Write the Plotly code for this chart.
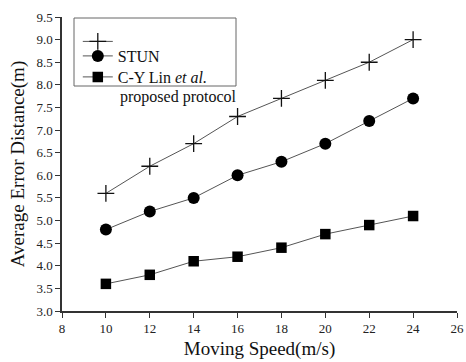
import plotly.graph_objects as go

speed = [10, 12, 14, 16, 18, 20, 22, 24]
proposed = [5.6, 6.2, 6.7, 7.3, 7.7, 8.1, 8.5, 9.0]
stun = [4.8, 5.2, 5.5, 6.0, 6.3, 6.7, 7.2, 7.7]
cylin = [3.6, 3.8, 4.1, 4.2, 4.4, 4.7, 4.9, 5.1]

names = ["\u00a0", "STUN", "C-Y Lin <i>et al.</i>"]
name_extra = "proposed protocol"

FONT = "Liberation Serif, Times New Roman, serif"
line_color = "#555555"

fig = go.Figure()
fig.add_trace(go.Scatter(x=speed, y=proposed, mode="lines+markers", name=names[0], legend="legend4",
                         line=dict(color=line_color, width=1),
                         marker=dict(symbol="cross-thin", size=12, line=dict(color="#111111", width=1.3))))
fig.add_trace(go.Scatter(x=speed, y=stun, mode="lines+markers", name=names[1], legend="legend2",
                         line=dict(color=line_color, width=1),
                         marker=dict(symbol="circle", size=12, color="black")))
fig.add_trace(go.Scatter(x=speed, y=cylin, mode="lines+markers", name=names[2], legend="legend3",
                         line=dict(color=line_color, width=1),
                         marker=dict(symbol="square", size=10.5, color="black")))


def leg(yc):
    return dict(x=0.04, y=yc, xanchor="left", yanchor="middle",
                bgcolor="rgba(0,0,0,0)", borderwidth=0,
                font=dict(family=FONT, size=16, color="#111111"),
                tracegroupgap=0, itemwidth=30)


fig.update_layout(
    width=466, height=362,
    margin=dict(l=62, r=9, t=17, b=51, autoexpand=False),
    paper_bgcolor="white", plot_bgcolor="white",
    font=dict(family=FONT, color="#222222", size=13),
    showlegend=True,
    legend4=leg((311 - 41.5) / 294),
    legend2=leg((311 - 56) / 294),
    legend3=leg((311 - 77) / 294),
    xaxis=dict(range=[8, 26], tickmode="array", tickvals=list(range(8, 27, 2)), automargin=True,
               ticklabeloverflow="allow",
               showgrid=False, zeroline=False, showline=True, linecolor="#333333", linewidth=1.5,
               ticks="outside", ticklen=5, tickcolor="#333333", tickwidth=1.2,
               title=dict(text="Moving Speed(m/s)", font=dict(family=FONT, size=19, color="#111111"),
                          standoff=6)),
    yaxis=dict(range=[3.0, 9.5], tickmode="array", tickvals=[3.0 + 0.5 * i for i in range(14)], automargin=True,
               tickformat=".1f",
               showgrid=False, zeroline=False, showline=True, linecolor="#333333", linewidth=1.5,
               ticks="outside", ticklen=5, tickcolor="#333333", tickwidth=1.2,
               title=dict(text="Average Error Distance(m)", font=dict(family=FONT, size=19, color="#111111"),
                          standoff=7)),
    shapes=[dict(type="rect", xref="paper", yref="paper",
                 x0=(74 - 62) / 395, x1=(236 - 62) / 395,
                 y0=(311 - 86) / 294, y1=(311 - 18) / 294,
                 line=dict(color="#666666", width=1))],
    annotations=[dict(text=name_extra, xref="paper", yref="paper",
                      x=(118 - 62) / 395, y=(311 - 97) / 294, xanchor="left", yanchor="middle",
                      showarrow=False, font=dict(family=FONT, size=16, color="#111111"))],
)

fig.write_html("out.html", config={"displayModeBar": False},
               post_script="document.body.style.margin='0';document.body.style.overflow='hidden';")
